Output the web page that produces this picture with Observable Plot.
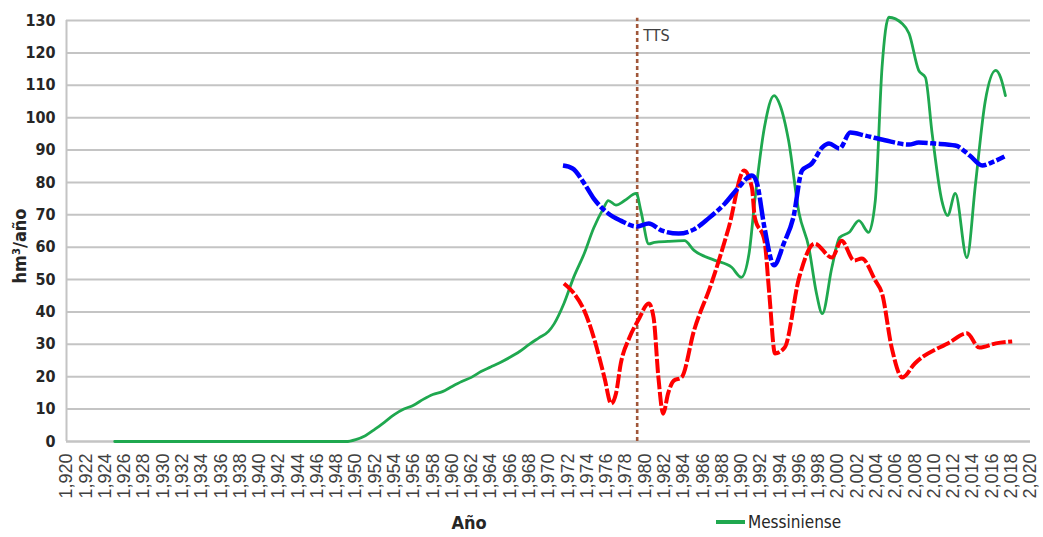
<!DOCTYPE html>
<html>
<head>
<meta charset="utf-8">
<script src="https://cdn.jsdelivr.net/npm/d3@7"></script>
<script src="https://cdn.jsdelivr.net/npm/@observablehq/plot@0.6"></script>
<style>
  body { margin: 0; background: #fff; }
  #wrap { position: relative; width: 1043px; height: 537px; overflow: hidden; background: #fff; }
  #foot { position: relative; width: 1043px; height: 27px; }
  .narrow { font-family: 'Liberation Sans Narrow', 'DejaVu Sans Condensed', 'Liberation Sans', sans-serif; }
  #xlab { position: absolute; left: 469px; top: 12px; transform: translate(-50%, -50%); font-weight: bold; font-size: 18px; color: #262626; }
  #ylab { position: absolute; left: 19px; top: 246px; transform: translate(-50%, -50%) rotate(-90deg); font-weight: bold; font-size: 18px; color: #262626; white-space: nowrap; }
  #legline { position: absolute; left: 716px; top: 10px; width: 29px; height: 4px; background: #1fa84f; }
  #legtxt { position: absolute; left: 748px; top: 12px; transform: translateY(-50%); font-size: 17px; color: #262626; }
</style>
</head>
<body>
<div id="wrap"><div id="chart"></div>
<div id="foot"><span id="xlab" class="narrow">Año</span><span id="legline"></span><span id="legtxt" class="narrow">Messiniense</span></div>
<span id="ylab" class="narrow"></span>
</div>
<script>
// Messiniense (green, solid)
const greenYear = [1925,1949,1950,1951,1952,1953,1954,1955,1956,1957,1958,1959,1960,1961,1962,1963,1964,1965,1966,1967,1968,1969,1970,1970.6,1971.6,1972.6,1973.7,1974.7,1975.7,1976.2,1977,1977.9,1979.1,1979.6,1980.4,1981,1982.4,1984.1,1985.1,1987.2,1989,1990,1990.8,1991.4,1992.4,1993.4,1994,1994.9,1996,1997,1997.8,1998.4,1999.4,2000.2,2001.2,2002.2,2003.2,2003.9,2004.6,2005.3,2006.7,2007.4,2008.4,2009.1,2009.8,2010.8,2011.4,2012.2,2013.4,2014.3,2015.3,2016.4,2016.9,2017.4];
const greenValue = [0,0,0.6,1.8,3.8,6,8.3,10,11.2,13,14.5,15.4,17,18.5,19.8,21.6,23,24.4,26,27.8,30,32,34,36.4,42.6,50.6,58,66,72,74.4,73,74.4,76.6,71,61,61.5,61.8,62,59,56,53.8,50.7,58,74.4,97,106.8,104,93,70.4,60,45.7,39.5,53.8,63,64.6,68.2,64.6,74.4,115.5,131,129,126,114.6,112.4,95,74.4,69.8,76.6,56.8,79.7,105,114.6,112.4,106.8];

// blue series (dash-dot)
const blueYear = [1971.5,1972.5,1973.7,1974.7,1976.2,1977.5,1979.1,1980.4,1981.7,1983.5,1985.1,1986.6,1988.3,1989.7,1991.1,1991.6,1992.4,1993.4,1994.4,1995.4,1996.3,1997.3,1998.4,1999.1,2000.2,2001.3,2002.8,2004.9,2007.4,2008.4,2010.1,2012.2,2013.7,2015,2016,2017.3];
const blueValue = [85.2,84.3,79.7,75,70.4,68.2,66.4,67.3,65.2,64.2,65.5,68.9,73.5,78.4,82.1,80,66.1,54.4,61.1,69.2,83.7,85.8,90.8,92,90.5,95.4,94.5,93,91.7,92.3,92,91.4,88.3,85.2,86.2,88];

// red series (dashed)
const redYear = [1971.6,1972.65,1973.7,1974.7,1975.8,1976.5,1977,1977.5,1978.4,1979.3,1980.4,1980.9,1981.4,1981.9,1982.4,1983,1983.8,1985.1,1986.9,1988.7,1990.3,1991.1,1991.4,1992.4,1992.9,1993.5,1994.5,1996,1997.6,1999.4,2000.4,2001.7,2002.5,2003.9,2004.6,2005.6,2006.7,2008,2011.6,2013.4,2014.7,2016.4,2018.1];
const redValue = [48.8,45.7,40.5,32.1,19.8,11.7,14.8,24.1,32.1,37.4,42.6,38.3,19.8,8.6,14.8,18.8,19.8,34.3,48.8,66.1,83.7,78.4,69.2,62.1,45.7,27.2,29,50.6,61.1,56.8,62,55.9,56.5,49.7,45.7,29,19.8,24.1,30.6,33.4,29,30.3,30.9];

const ttsYear = [1979.2];
const ttsLabel = ["TTS"];
const xTicks = d3.range(1920, 2021, 2);
const yTicks = d3.range(0, 131, 10);
const yTitle = "hm³/año";

document.getElementById("ylab").textContent = yTitle;

const toRows = (xs, vs) => xs.map((x, i) => ({x, v: vs[i]}));
const green = toRows(greenYear, greenValue);
const blue = toRows(blueYear, blueValue);
const red = toRows(redYear, redValue);

const narrow = "'Liberation Sans Narrow', 'DejaVu Sans Condensed', 'Liberation Sans', sans-serif";

const chart = Plot.plot({
  width: 1043,
  height: 510,
  marginLeft: 66,
  marginRight: 13,
  marginTop: 20,
  marginBottom: 69,
  style: { background: "#fff", overflow: "visible", fontFamily: "'Liberation Sans', Arial, sans-serif" },
  x: { domain: [1920, 2020], label: null },
  y: { domain: [0, 130], label: null },
  marks: [
    Plot.gridY(yTicks, { stroke: "#c4c4c4", strokeOpacity: 1, strokeWidth: 2 }),
    Plot.ruleX([1920], { stroke: "#c4c4c4", strokeWidth: 2 }),
    Plot.ruleY([0], { stroke: "#c4c4c4", strokeWidth: 2 }),
    Plot.axisX({ ticks: xTicks, tickFormat: d3.format(","), tickRotate: -90, tickSize: 0, tickPadding: 12, fontSize: 18, fill: "#404040", label: null }),
    Plot.axisY({ ticks: yTicks, tickSize: 0, tickPadding: 11, fontSize: 16, fontWeight: "bold", fontFamily: narrow, fill: "#262626", label: null }),
    Plot.ruleX(ttsYear, { y1: 0, y2: 130.7, stroke: "#a0573a", strokeWidth: 2.6, strokeDasharray: "4,3", strokeLinecap: "butt" }),
    Plot.text(ttsLabel, { x: ttsYear, y: 125.4, dx: 6, textAnchor: "start", fontSize: 16, fontFamily: narrow, fill: "#404040" }),
    Plot.line(green, { x: "x", y: "v", stroke: "#1fa84f", strokeWidth: 2.8, curve: "monotone-x" }),
    Plot.line(red, { x: "x", y: "v", stroke: "#ff0000", strokeWidth: 4, strokeDasharray: "14,2.5", strokeLinecap: "butt", curve: "monotone-x" }),
    Plot.line(blue, { x: "x", y: "v", stroke: "#0000ff", strokeWidth: 4.5, strokeDasharray: "22,2.5,6,2.5", strokeLinecap: "butt", curve: "monotone-x" })
  ]
});
document.getElementById("chart").appendChild(chart);
</script>
</body>
</html>
